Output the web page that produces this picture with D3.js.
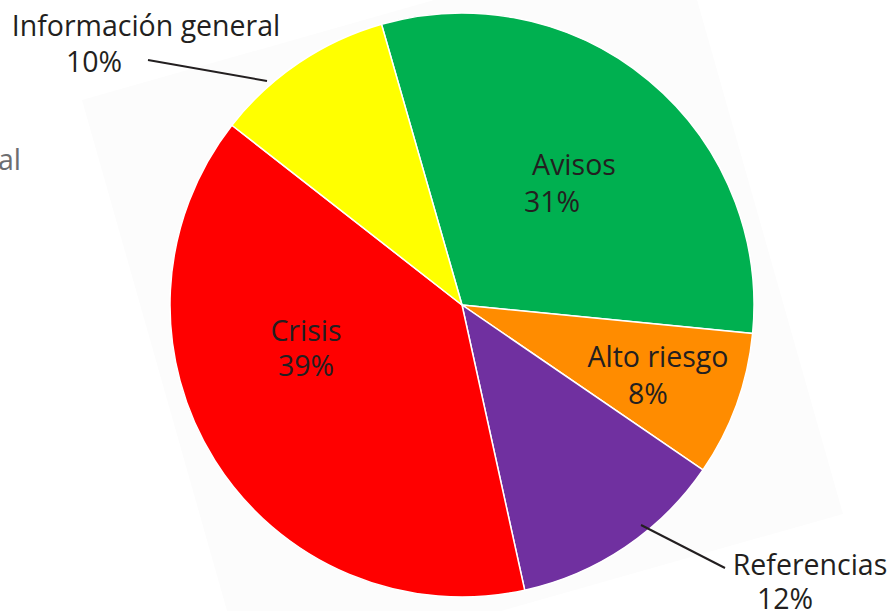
<!DOCTYPE html>
<html>
<head>
<meta charset="utf-8">
<script src="https://cdn.jsdelivr.net/npm/d3@7"></script>
<style>
  body { margin: 0; background: #fff; }
  svg { display: block; }
  text { font-family: "Open Sans", sans-serif; fill: #231f20; }
</style>
</head>
<body>
<div class="container"></div>
<script>
// data
const categories = ["Avisos", "Alto riesgo", "Referencias", "Crisis", "Información general"];
const values = [31, 8, 12, 39, 10];
const colors = ["#00b050", "#ff8c00", "#7030a0", "#ff0000", "#ffff00"];
const pctLabels = values.map(v => v + "%");

const w = 891;
const h = 611;
const cx = 462, cy = 305, radius = 292;
const startDeg = -16;
const fontSize = "28.5px";

const svg = d3.select(".container")
    .append("svg")
    .attr("width", w)
    .attr("height", h);

// faint tilted sheet behind the pie
svg.append("rect")
    .attr("x", 0).attr("y", 0)
    .attr("width", 619).attr("height", 606)
    .attr("transform", "translate(82,100) rotate(-15.85)")
    .attr("fill", "#fcfcfc");

// cut-off text on the left edge
svg.append("text")
    .attr("x", 21).attr("y", 170)
    .attr("text-anchor", "end")
    .style("font-size", fontSize)
    .style("fill", "#6d6e71")
    .text("general");

const pie = d3.pie()
    .sort(null)
    .startAngle(startDeg * Math.PI / 180)
    .endAngle(startDeg * Math.PI / 180 + 2 * Math.PI);

const arc = d3.arc().innerRadius(0).outerRadius(radius);

const slices = pie(values).map((d, i) => ({ ...d, name: categories[i], color: colors[i], pct: pctLabels[i] }));

const g = svg.append("g").attr("transform", `translate(${cx},${cy})`);

g.selectAll("path")
    .data(slices)
    .enter()
    .append("path")
    .attr("d", arc)
    .attr("fill", d => d.color)
    .attr("stroke", "#fff")
    .attr("stroke-width", 1.5);

// label spots (name line, pct line), relative to the page
const labelPos = {
    "Avisos": [[574, 175], [552, 212]],
    "Alto riesgo": [[658, 367], [648, 404]],
    "Referencias": [[810, 575], [785, 609]],
    "Crisis": [[306, 341], [306, 376]],
    "Información general": [[146, 36], [94, 72]]
};

slices.forEach(d => {
    const p = labelPos[d.name];
    svg.append("text")
        .attr("x", p[0][0]).attr("y", p[0][1])
        .attr("text-anchor", "middle")
        .style("font-size", fontSize)
        .text(d.name);
    svg.append("text")
        .attr("x", p[1][0]).attr("y", p[1][1])
        .attr("text-anchor", "middle")
        .style("font-size", fontSize)
        .text(d.pct);
});

// leader lines
const leaders = [
    [[148, 60], [267, 81]],
    [[641, 525], [725, 568]]
];
svg.selectAll("line.leader")
    .data(leaders)
    .enter()
    .append("line")
    .attr("class", "leader")
    .attr("x1", d => d[0][0]).attr("y1", d => d[0][1])
    .attr("x2", d => d[1][0]).attr("y2", d => d[1][1])
    .attr("stroke", "#231f20")
    .attr("stroke-width", 2);
</script>
</body>
</html>
